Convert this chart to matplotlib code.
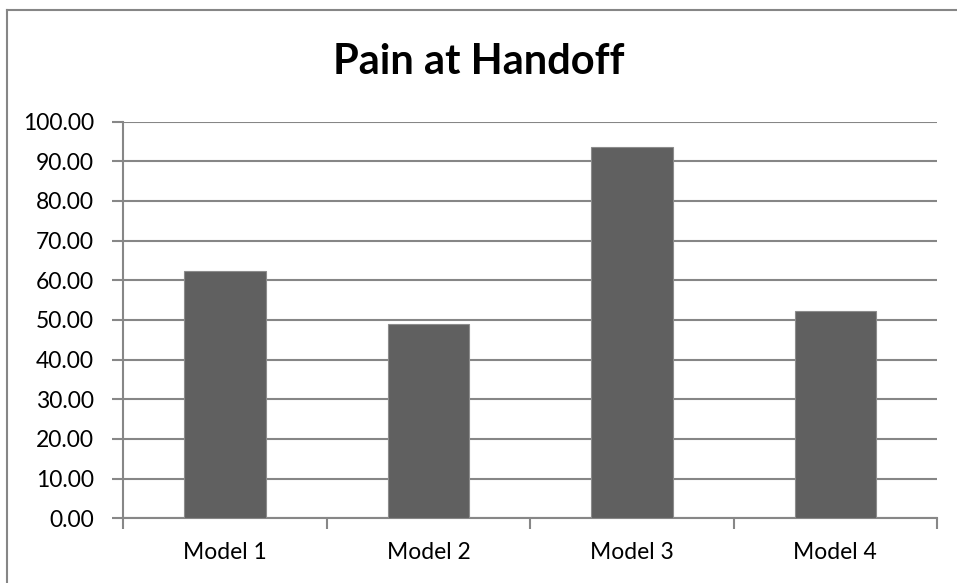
import numpy as np
import matplotlib
matplotlib.use("Agg")
import matplotlib.pyplot as plt
from matplotlib.lines import Line2D

# values
models = ['Model 1', 'Model 2', 'Model 3', 'Model 4']
pain = [62.4, 48.9, 93.7, 52.3]
yticks = np.arange(0, 101, 10)

plt.rcParams['font.family'] = ['Lato', 'DejaVu Sans']

fig = plt.figure(figsize=(9.57, 5.83), dpi=100)
ax = fig.add_axes([0.1288, 0.111, 0.9791 - 0.1288, 0.7913 - 0.111])

x = np.arange(len(models))
ax.bar(x, pain, width=0.4, color='#606060', edgecolor='#8c8c8c', linewidth=0.8, zorder=3)

ax.set_ylim(0, 100)
ax.set_xlim(-0.5, len(models) - 0.5)
ax.set_yticks(yticks)
ax.set_yticklabels(['%.2f' % v for v in yticks], fontsize=16.5)
ax.yaxis.grid(True, color='#868686', linewidth=1.5, zorder=0)

ax.set_xticks(x)
ax.set_xticklabels(models, fontsize=16.5)
ax.set_xticks(np.arange(len(models) + 1) - 0.5, minor=True)
ax.tick_params(axis='x', which='major', length=0, pad=17)
ax.tick_params(axis='x', which='minor', length=8, width=1.5, color='#878787')
ax.tick_params(axis='y', length=8, width=1.5, color='#878787', pad=13)

for s in ['top', 'right']:
    ax.spines[s].set_visible(False)
for s in ['left', 'bottom']:
    ax.spines[s].set_color('#878787')
    ax.spines[s].set_linewidth(1.5)

fig.text(0.5, 0.893, 'Pain at Handoff', ha='center', va='center',
         fontsize=30, fontweight='bold')

# chart frame (top and left edges visible in the crop)
fig.add_artist(Line2D([7 / 957, 1], [1 - 9.5 / 583, 1 - 9.5 / 583],
                      color='#868686', linewidth=1.5, transform=fig.transFigure))
fig.add_artist(Line2D([7 / 957, 7 / 957], [0, 1 - 9.5 / 583],
                      color='#868686', linewidth=1.5, transform=fig.transFigure))

fig.savefig('out.png', dpi=100)
